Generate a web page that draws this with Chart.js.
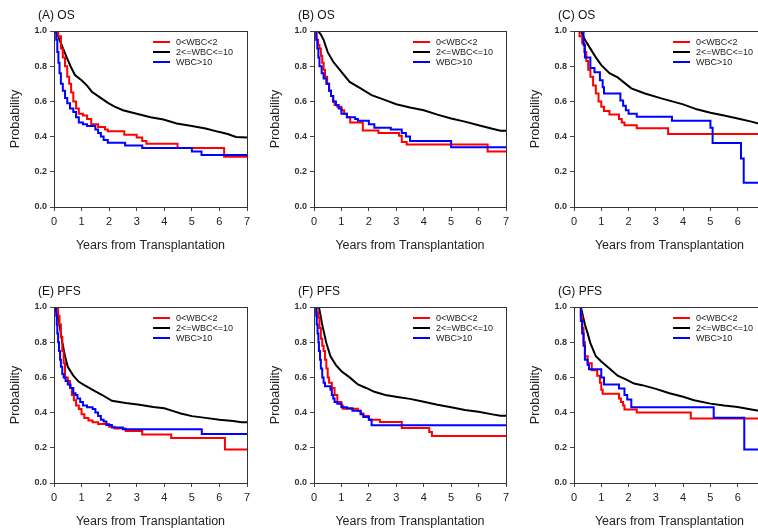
<!DOCTYPE html>
<html>
<head>
<meta charset="utf-8">
<script src="https://cdn.jsdelivr.net/npm/chart.js@4.4.1/dist/chart.umd.min.js"></script>
<style>
  html, body { margin: 0; padding: 0; background: #fff; overflow: hidden; }
  body { width: 758px; height: 531px; position: relative; }
  .panel { position: absolute; }
</style>
</head>
<body>
<div class="panel" style="left:0px;top:0px"><canvas id="chartA" width="260" height="255"></canvas></div>
<div class="panel" style="left:260px;top:0px"><canvas id="chartB" width="259" height="255"></canvas></div>
<div class="panel" style="left:520px;top:0px"><canvas id="chartC" width="258" height="255"></canvas></div>
<div class="panel" style="left:0px;top:276px"><canvas id="chartE" width="260" height="255"></canvas></div>
<div class="panel" style="left:260px;top:276px"><canvas id="chartF" width="259" height="255"></canvas></div>
<div class="panel" style="left:520px;top:276px"><canvas id="chartG" width="258" height="255"></canvas></div>
<script>
// legend labels and tick values
const groupLabels = ['0<WBC<2', '2<=WBC<=10', 'WBC>10'];
const xTicks = [0, 1, 2, 3, 4, 5, 6, 7];
const yTicks = [0, 0.2, 0.4, 0.6, 0.8, 1.0];

// (A) OS
const A_red_t = [0, 0.15, 0.25, 0.32, 0.4, 0.48, 0.55, 0.62, 0.7, 0.8, 0.9, 1.05, 1.2, 1.35, 1.6, 1.85, 1.95, 2.55, 3.0, 3.2, 3.35, 4.48, 6.17, 7];
const A_red_s = [1, 0.97, 0.9, 0.85, 0.8, 0.74, 0.7, 0.65, 0.6, 0.56, 0.53, 0.52, 0.5, 0.47, 0.455, 0.44, 0.43, 0.41, 0.395, 0.375, 0.36, 0.335, 0.285, 0.285];
const A_blk_t = [0, 0.1, 0.2, 0.33, 0.46, 0.6, 0.76, 1.0, 1.2, 1.37, 1.6, 1.97, 2.2, 2.5, 3.0, 3.5, 3.97, 4.45, 5.0, 5.5, 5.97, 6.3, 6.6, 7];
const A_blk_s = [1, 0.99, 0.95, 0.9, 0.85, 0.8, 0.75, 0.72, 0.69, 0.655, 0.63, 0.59, 0.57, 0.55, 0.53, 0.51, 0.497, 0.474, 0.46, 0.446, 0.427, 0.415, 0.398, 0.395];
const A_blu_t = [0, 0.08, 0.12, 0.16, 0.2, 0.25, 0.32, 0.4, 0.48, 0.58, 0.7, 0.8, 0.9, 1.05, 1.2, 1.5, 1.6, 1.7, 1.8, 1.95, 2.58, 3.2, 5.0, 5.35, 7];
const A_blu_s = [1, 0.95, 0.88, 0.82, 0.76, 0.7, 0.66, 0.62, 0.59, 0.56, 0.54, 0.51, 0.48, 0.47, 0.46, 0.44, 0.42, 0.4, 0.38, 0.365, 0.35, 0.335, 0.315, 0.295, 0.295];

// (B) OS
const B_red_t = [0, 0.1, 0.15, 0.2, 0.25, 0.3, 0.35, 0.4, 0.48, 0.55, 0.62, 0.7, 0.75, 0.85, 1.0, 1.1, 1.2, 1.32, 1.78, 2.35, 3.1, 3.2, 3.38, 6.33, 7];
const B_red_s = [1, 0.95, 0.92, 0.9, 0.86, 0.82, 0.78, 0.74, 0.7, 0.66, 0.63, 0.6, 0.58, 0.57, 0.55, 0.53, 0.51, 0.48, 0.435, 0.42, 0.405, 0.37, 0.355, 0.315, 0.315];
const B_blk_t = [0, 0.15, 0.25, 0.35, 0.5, 0.7, 1.0, 1.3, 1.7, 2.1, 2.6, 3.0, 3.5, 4.0, 4.5, 5.0, 5.5, 6.0, 6.5, 6.8, 7];
const B_blk_s = [1, 1, 0.98, 0.95, 0.88, 0.825, 0.768, 0.711, 0.674, 0.636, 0.607, 0.584, 0.565, 0.55, 0.525, 0.503, 0.485, 0.465, 0.445, 0.433, 0.433];
const B_blu_t = [0, 0.08, 0.12, 0.16, 0.2, 0.28, 0.35, 0.45, 0.55, 0.62, 0.7, 0.8, 0.9, 1.0, 1.2, 1.5, 1.6, 2.0, 2.2, 2.8, 3.2, 3.35, 3.5, 5.0, 7];
const B_blu_s = [1, 0.95, 0.9, 0.85, 0.8, 0.76, 0.73, 0.7, 0.66, 0.63, 0.6, 0.58, 0.56, 0.53, 0.51, 0.5, 0.49, 0.47, 0.45, 0.44, 0.42, 0.4, 0.375, 0.34, 0.34];

// (C) OS
const C_red_t = [0, 0.2, 0.3, 0.38, 0.45, 0.52, 0.6, 0.7, 0.8, 0.9, 1.0, 1.1, 1.3, 1.65, 1.75, 1.85, 2.3, 3.45, 7];
const C_red_s = [1, 0.97, 0.93, 0.88, 0.83, 0.78, 0.74, 0.69, 0.645, 0.6, 0.57, 0.545, 0.525, 0.5, 0.48, 0.465, 0.447, 0.415, 0.415];
const C_blk_t = [0, 0.25, 0.4, 0.6, 0.8, 1.0, 1.3, 1.6, 2.1, 2.6, 3.2, 3.6, 4.0, 4.5, 5.0, 5.5, 6.0, 6.5, 7];
const C_blk_s = [1, 1, 0.95, 0.9, 0.85, 0.806, 0.76, 0.736, 0.674, 0.645, 0.617, 0.6, 0.583, 0.555, 0.535, 0.52, 0.503, 0.485, 0.465];
const C_blu_t = [0, 0.35, 0.4, 0.6, 0.75, 0.95, 1.05, 1.1, 1.7, 1.8, 1.9, 2.0, 2.3, 3.59, 5.0, 5.08, 6.12, 6.22, 7];
const C_blu_s = [1, 0.92, 0.85, 0.79, 0.765, 0.72, 0.68, 0.645, 0.605, 0.575, 0.55, 0.53, 0.513, 0.49, 0.45, 0.363, 0.275, 0.138, 0.138];

// (E) PFS
const E_red_t = [0, 0.15, 0.2, 0.25, 0.3, 0.35, 0.4, 0.5, 0.58, 0.65, 0.72, 0.8, 0.9, 1.0, 1.1, 1.25, 1.4, 1.6, 2.0, 2.2, 2.6, 3.2, 4.25, 6.2, 7];
const E_red_s = [1, 0.95, 0.9, 0.83, 0.75, 0.68, 0.6, 0.58, 0.54, 0.5, 0.47, 0.44, 0.42, 0.39, 0.37, 0.355, 0.345, 0.335, 0.32, 0.31, 0.295, 0.276, 0.255, 0.19, 0.19];
const E_blk_t = [0, 0.1, 0.2, 0.3, 0.4, 0.5, 0.7, 0.9, 1.1, 1.5, 1.75, 2.1, 2.6, 3.1, 3.6, 4.0, 4.3, 4.6, 5.0, 5.5, 6.0, 6.5, 6.8, 7];
const E_blk_s = [1, 0.97, 0.9, 0.8, 0.72, 0.66, 0.61, 0.575, 0.556, 0.52, 0.5, 0.467, 0.455, 0.445, 0.432, 0.425, 0.41, 0.395, 0.38, 0.37, 0.36, 0.352, 0.345, 0.345];
const E_blu_t = [0, 0.08, 0.1, 0.12, 0.15, 0.18, 0.22, 0.25, 0.3, 0.35, 0.42, 0.5, 0.6, 0.7, 0.78, 0.85, 0.95, 1.05, 1.2, 1.4, 1.5, 1.6, 1.7, 1.8, 1.9, 2.1, 2.5, 5.36, 7];
const E_blu_s = [1, 0.95, 0.9, 0.85, 0.8, 0.75, 0.7, 0.66, 0.62, 0.6, 0.58, 0.56, 0.54, 0.51, 0.5, 0.48, 0.46, 0.44, 0.43, 0.42, 0.4, 0.38, 0.36, 0.35, 0.33, 0.315, 0.305, 0.278, 0.278];

// (F) PFS
const F_red_t = [0, 0.1, 0.15, 0.2, 0.25, 0.3, 0.35, 0.4, 0.45, 0.5, 0.55, 0.65, 0.75, 0.85, 1.0, 1.05, 1.6, 1.7, 1.8, 2.0, 2.4, 3.2, 4.2, 4.3, 7];
const F_red_s = [1, 0.97, 0.94, 0.88, 0.82, 0.78, 0.75, 0.7, 0.65, 0.6, 0.57, 0.54, 0.5, 0.46, 0.44, 0.422, 0.41, 0.395, 0.38, 0.36, 0.347, 0.312, 0.29, 0.267, 0.267];
const F_blk_t = [0, 0.18, 0.3, 0.45, 0.6, 0.8, 1.0, 1.3, 1.6, 1.9, 2.2, 2.6, 3.1, 3.5, 4.0, 4.5, 5.0, 5.5, 6.0, 6.5, 6.8, 7];
const F_blk_s = [1, 1, 0.9, 0.795, 0.72, 0.67, 0.635, 0.6, 0.56, 0.54, 0.518, 0.5, 0.487, 0.478, 0.462, 0.445, 0.43, 0.415, 0.405, 0.39, 0.382, 0.382];
const F_blu_t = [0, 0.08, 0.1, 0.13, 0.16, 0.18, 0.22, 0.25, 0.3, 0.35, 0.4, 0.6, 0.65, 0.7, 0.75, 0.85, 1.0, 1.2, 1.4, 1.7, 1.8, 2.0, 2.1, 7];
const F_blu_s = [1, 0.95, 0.9, 0.85, 0.8, 0.75, 0.7, 0.65, 0.6, 0.57, 0.55, 0.53, 0.5, 0.48, 0.46, 0.45, 0.43, 0.425, 0.41, 0.39, 0.375, 0.36, 0.328, 0.328];

// (G) PFS
const G_red_t = [0, 0.25, 0.3, 0.35, 0.4, 0.5, 0.65, 0.85, 0.95, 1.0, 1.05, 1.65, 1.72, 1.8, 1.85, 2.3, 4.28, 7];
const G_red_s = [1, 0.95, 0.88, 0.8, 0.72, 0.68, 0.64, 0.61, 0.57, 0.53, 0.507, 0.48, 0.46, 0.44, 0.418, 0.4, 0.367, 0.367];
const G_blk_t = [0, 0.25, 0.4, 0.5, 0.6, 0.8, 1.0, 1.3, 1.6, 1.9, 2.2, 2.5, 3.0, 3.5, 4.0, 4.4, 5.0, 5.5, 6.0, 6.5, 7];
const G_blk_s = [1, 1, 0.9, 0.85, 0.795, 0.72, 0.69, 0.65, 0.61, 0.589, 0.565, 0.556, 0.535, 0.51, 0.49, 0.47, 0.451, 0.44, 0.432, 0.418, 0.405];
const G_blu_t = [0, 0.25, 0.3, 0.35, 0.4, 0.5, 0.55, 1.0, 1.1, 1.65, 1.85, 1.95, 2.1, 5.12, 6.24, 7];
const G_blu_s = [1, 0.92, 0.85, 0.78, 0.7, 0.67, 0.646, 0.6, 0.56, 0.537, 0.5, 0.474, 0.43, 0.371, 0.19, 0.19];

const FONT = '"Liberation Sans", Arial, sans-serif';

const toPoints = (t, s) => t.map((x, i) => ({ x: x, y: s[i] }));

// draws the box, the panel title and the small legend inside the plot
const panelDecor = {
    id: 'panelDecor',
    afterDraw(chart, args, opts) {
        const { ctx, chartArea } = chart;
        const { left, top, right, bottom } = chartArea;
        ctx.save();
        ctx.strokeStyle = '#333';
        ctx.lineWidth = 1;
        ctx.strokeRect(left + 0.5, top + 0.5, right - left, bottom - top);

        ctx.fillStyle = '#111';
        ctx.font = '12px ' + FONT;
        ctx.textBaseline = 'middle';
        ctx.textAlign = 'left';
        ctx.fillText(opts.title, left - 16, top - 15);

        // legend in original order: red, black, blue
        const legendOrder = [0, 1, 2];
        ctx.font = '9px ' + FONT;
        legendOrder.forEach((idx, row) => {
            const ds = chart.data.datasets[idx];
            const y = top + 11 + row * 10;
            ctx.strokeStyle = ds.borderColor;
            ctx.lineWidth = 2;
            ctx.beginPath();
            ctx.moveTo(left + 99, y);
            ctx.lineTo(left + 116, y);
            ctx.stroke();
            ctx.fillStyle = '#222';
            ctx.fillText(ds.label, left + 122, y + 0.5);
        });
        ctx.restore();
    }
};

function makePanel(id, title, red, black, blue) {
    const ctx = document.getElementById(id).getContext('2d');
    const canvasW = ctx.canvas.width;
    return new Chart(ctx, {
        type: 'line',
        data: {
            datasets: [
                { label: groupLabels[0], data: red, borderColor: '#ff0000', borderWidth: 2, stepped: true, order: 2 },
                { label: groupLabels[1], data: black, borderColor: '#000000', borderWidth: 2, stepped: false, tension: 0, order: 3 },
                { label: groupLabels[2], data: blue, borderColor: '#0000ff', borderWidth: 2, stepped: true, order: 1 }
            ]
        },
        options: {
            responsive: false,
            animation: false,
            events: [],
            pointRadius: 0,
            elements: { point: { radius: 0 }, line: { fill: false } },
            layout: { padding: { left: 0, top: 31, right: canvasW - 54 - (canvasW - 67), bottom: 0 } },
            plugins: {
                legend: { display: false },
                tooltip: { enabled: false },
                panelDecor: { title: title }
            },
            scales: {
                x: {
                    type: 'linear',
                    min: 0,
                    max: 7,
                    afterFit: (scale) => { scale.height = 48; },
                    afterBuildTicks: (scale) => { scale.ticks = xTicks.map(v => ({ value: v })); },
                    grid: { drawOnChartArea: false, tickLength: 4, color: '#444' },
                    border: { display: false },
                    ticks: { padding: 4, color: '#222', font: { family: FONT, size: 11 }, maxRotation: 0 },
                    title: { display: true, text: 'Years from Transplantation', color: '#222', font: { family: FONT, size: 12.5 }, padding: { top: 0, bottom: 2 } }
                },
                y: {
                    min: 0,
                    max: 1,
                    afterFit: (scale) => { scale.width = 54; },
                    afterBuildTicks: (scale) => { scale.ticks = yTicks.map(v => ({ value: v })); },
                    grid: { drawOnChartArea: false, tickLength: 4, color: '#444' },
                    border: { display: false },
                    ticks: { padding: 3, color: '#333', font: { family: FONT, size: 9, weight: 'bold' }, callback: (v) => Number(v).toFixed(1) },
                    title: { display: true, text: 'Probability', color: '#222', font: { family: FONT, size: 12.5 }, padding: { top: 8, bottom: 0 } }
                }
            }
        },
        plugins: [panelDecor]
    });
}

makePanel('chartA', '(A) OS', toPoints(A_red_t, A_red_s), toPoints(A_blk_t, A_blk_s), toPoints(A_blu_t, A_blu_s));
makePanel('chartB', '(B) OS', toPoints(B_red_t, B_red_s), toPoints(B_blk_t, B_blk_s), toPoints(B_blu_t, B_blu_s));
makePanel('chartC', '(C) OS', toPoints(C_red_t, C_red_s), toPoints(C_blk_t, C_blk_s), toPoints(C_blu_t, C_blu_s));
makePanel('chartE', '(E) PFS', toPoints(E_red_t, E_red_s), toPoints(E_blk_t, E_blk_s), toPoints(E_blu_t, E_blu_s));
makePanel('chartF', '(F) PFS', toPoints(F_red_t, F_red_s), toPoints(F_blk_t, F_blk_s), toPoints(F_blu_t, F_blu_s));
makePanel('chartG', '(G) PFS', toPoints(G_red_t, G_red_s), toPoints(G_blk_t, G_blk_s), toPoints(G_blu_t, G_blu_s));
</script>
</body>
</html>
